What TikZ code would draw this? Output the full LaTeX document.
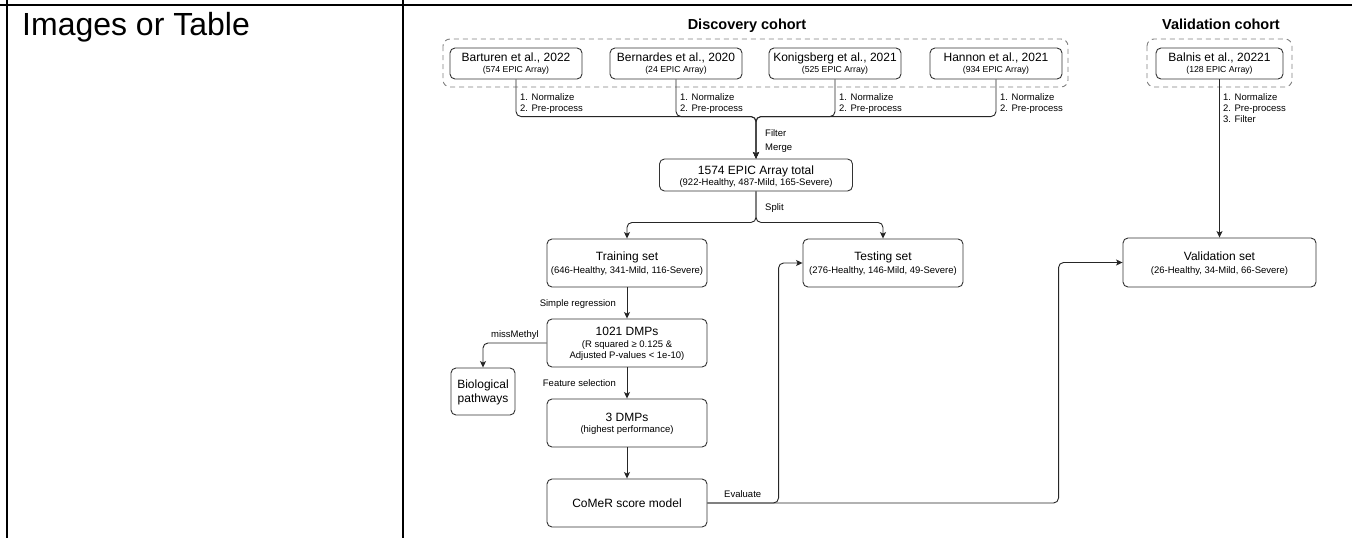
\documentclass[tikz,border=0pt]{standalone}
\usepackage{fontspec}
\setmainfont{Liberation Sans}
\usetikzlibrary{arrows.meta,calc}
\begin{document}
\begin{tikzpicture}[x=1pt,y=-1pt,
  box/.style={draw=black!80, line width=0.9pt, rounded corners=5pt, inner sep=0pt, fill=white},
  conn/.style={draw=black!85, line width=0.9pt, rounded corners=5pt},
  arr/.style={conn, -{Stealth[length=6.5pt,width=6pt,inset=1.5pt]}},
  grp/.style={draw=black!50, line width=0.9pt, dash pattern=on 5pt off 4pt, rounded corners=7pt},
  tt/.style={font=\fontsize{12}{14}\selectfont, inner sep=0pt},
  st/.style={font=\fontsize{9.5}{11.5}\selectfont, inner sep=0pt},
  sts/.style={font=\fontsize{8.7}{10}\selectfont, inner sep=0pt},
  lbl/.style={font=\fontsize{9.5}{11.5}\selectfont, inner sep=0pt, align=left},
  hdr/.style={font=\fontsize{14.5}{16}\selectfont\bfseries, inner sep=0pt},
  grid/.style={line width=2pt, draw=black}
]
\useasboundingbox (0,0) rectangle (1352,538);
\fill[white] (0,0) rectangle (1352,538);

% table grid
\draw[grid] (0,5) -- (1352,5);
\draw[grid] (7,0) -- (7,538);
\draw[grid] (403,0) -- (403,538);
\node[font=\fontsize{32}{34}\selectfont, inner sep=0pt, anchor=base west] (cell) at (22,35.5) {Images or Table};

% headers
\node[hdr, anchor=base] (disc) at (747,29) {Discovery cohort};
\node[hdr, anchor=base] (valc) at (1221,29) {Validation cohort};

% group frames
\draw[grp] (443,39) rectangle (1068,87);
\draw[grp] (1147,39) rectangle (1292,87);

% top boxes
\node[box, minimum width=132pt, minimum height=31pt] (bar) at (516,63.5) {};
\node[box, minimum width=132pt, minimum height=31pt] (ber) at (676,63.5) {};
\node[box, minimum width=132pt, minimum height=31pt] (kon) at (835,63.5) {};
\node[box, minimum width=132pt, minimum height=31pt] (han) at (996,63.5) {};
\node[box, minimum width=127pt, minimum height=31pt] (bal) at (1219.5,63.5) {};

\node[tt, anchor=base] (barT) at (516,61) {Barturen et al., 2022};
\node[sts, anchor=base] (barS) at (516,72.5) {(574 EPIC Array)};
\node[tt, anchor=base] (berT) at (676,61) {Bernardes et al., 2020};
\node[sts, anchor=base] (berS) at (676,72.5) {(24 EPIC Array)};
\node[tt, anchor=base] (konT) at (835,61) {Konigsberg et al., 2021};
\node[sts, anchor=base] (konS) at (835,72.5) {(525 EPIC Array)};
\node[tt, anchor=base] (hanT) at (996,61) {Hannon et al., 2021};
\node[sts, anchor=base] (hanS) at (996,72.5) {(934 EPIC Array)};
\node[tt, anchor=base] (balT) at (1219.5,61) {Balnis et al., 20221};
\node[sts, anchor=base] (balS) at (1219.5,72.5) {(128 EPIC Array)};

% middle boxes
\node[box, minimum width=193pt, minimum height=32pt] (total) at (756,175) {};
\node[tt, anchor=base] (totalT) at (756,174) {1574 EPIC Array total};
\node[st, anchor=base] (totalS) at (756,185.5) {(922-Healthy, 487-Mild, 165-Severe)};

\node[box, minimum width=160pt, minimum height=48pt] (train) at (627,263) {};
\node[tt, anchor=base] (trainT) at (627,260.7) {Training set};
\node[st, anchor=base] (trainS) at (627,273.3) {(646-Healthy, 341-Mild, 116-Severe)};

\node[box, minimum width=160pt, minimum height=48pt] (test) at (883,263) {};
\node[tt, anchor=base] (testT) at (883,260.7) {Testing set};
\node[st, anchor=base] (testS) at (883,273.3) {(276-Healthy, 146-Mild, 49-Severe)};

\node[box, minimum width=193pt, minimum height=49pt] (val) at (1219.5,262.5) {};
\node[tt, anchor=base] (valT) at (1219.5,260.5) {Validation set};
\node[st, anchor=base] (valS) at (1219.5,273.5) {(26-Healthy, 34-Mild, 66-Severe)};

\node[box, minimum width=160pt, minimum height=48pt] (dmp) at (627,343) {};
\node[tt, anchor=base] (dmpT) at (627,335.5) {1021 DMPs};
\node[st, anchor=base] (dmpS1) at (627,347.3) {(R squared ≥ 0.125 \&};
\node[st, anchor=base] (dmpS2) at (627,358.7) {Adjusted P-values < 1e-10)};

\node[box, minimum width=64pt, minimum height=47pt] (bio) at (483,391.5) {};
\node[tt, anchor=base] (bioT1) at (483,388.3) {Biological};
\node[tt, anchor=base] (bioT2) at (483,402) {pathways};

\node[box, minimum width=160pt, minimum height=48pt] (three) at (627,423) {};
\node[tt, anchor=base] (threeT) at (627,421.7) {3 DMPs};
\node[st, anchor=base] (threeS) at (627,432.3) {(highest performance)};

\node[box, minimum width=160pt, minimum height=48pt] (comer) at (627,503) {};
\node[tt, anchor=base] (comerT) at (627,507.5) {CoMeR score model};

% connectors: merge
\draw[arr] (bar.south) |- ($(total.north)+(0,-42)$) -- (total.north);
\draw[arr] (ber.south) |- ($(total.north)+(0,-42)$) -- (total.north);
\draw[arr] (kon.south) |- ($(total.north)+(0,-42)$) -- (total.north);
\draw[arr] (han.south) |- ($(total.north)+(0,-42)$) -- (total.north);
\node[lbl, anchor=base west] (barL1) at (520,100) {1. Normalize};
\node[lbl, anchor=base west] (barL2) at (520,111.5) {2. Pre-process};
\node[lbl, anchor=base west] (berL1) at (680,100) {1. Normalize};
\node[lbl, anchor=base west] (berL2) at (680,111.5) {2. Pre-process};
\node[lbl, anchor=base west] (konL1) at (839,100) {1. Normalize};
\node[lbl, anchor=base west] (konL2) at (839,111.5) {2. Pre-process};
\node[lbl, anchor=base west] (hanL1) at (1000,100) {1. Normalize};
\node[lbl, anchor=base west] (hanL2) at (1000,111.5) {2. Pre-process};
\node[lbl, anchor=base west] (filt) at (765,136) {Filter};
\node[lbl, anchor=base west] (merg) at (765,150) {Merge};

% split
\draw[arr] (total.south) -- ++(0,31) -| (train.north);
\draw[arr] (total.south) -- ++(0,31) -| (test.north);
\node[lbl, anchor=base west] (split) at (765,210) {Split};

% validation branch
\draw[arr] (bal.south) -- (val.north);
\node[lbl, anchor=base west] (balL1) at (1223,100) {1. Normalize};
\node[lbl, anchor=base west] (balL2) at (1223,111.3) {2. Pre-process};
\node[lbl, anchor=base west] (balL3) at (1223,122.6) {3. Filter};

% training chain
\draw[arr] (train.south) -- (dmp.north);
\node[lbl, anchor=base east] (simp) at (616,306) {Simple regression};
\draw[arr] (dmp.west) -| (bio.north);
\node[lbl, anchor=base west] (miss) at (491,337.5) {missMethyl};
\draw[arr] (dmp.south) -- (three.north);
\node[lbl, anchor=base east] (feat) at (616,386) {Feature selection};
\draw[arr] (three.south) -- (comer.north);

% evaluate
\draw[arr] (comer.east) -| ($(test.west)+(-24,0)$) -- (test.west);
\draw[arr] (comer.east) -| ($(val.west)+(-64,0)$) -- (val.west);
\node[lbl, anchor=base west] (eval) at (724,497.5) {Evaluate};
\end{tikzpicture}
\end{document}
